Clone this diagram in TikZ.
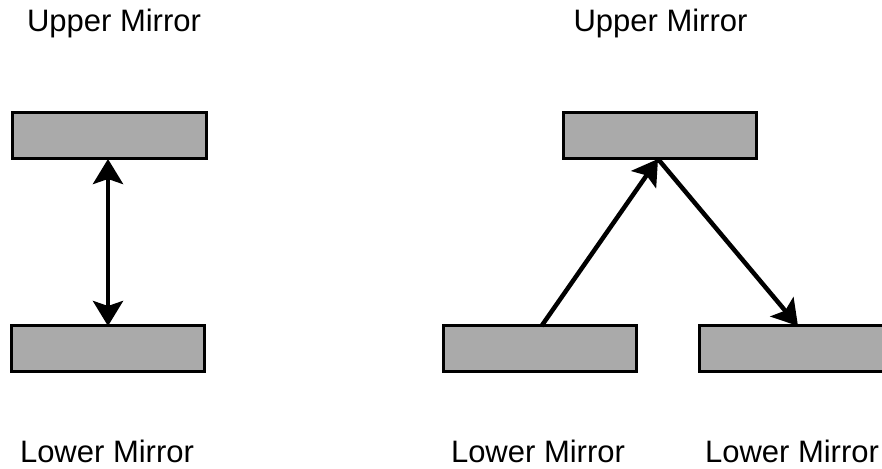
\documentclass[tikz,border=0pt]{standalone}
\usepackage{fontspec}
\setmainfont{Liberation Sans}
\usetikzlibrary{arrows.meta}
\begin{document}
\begin{tikzpicture}[x=1pt,y=1pt,
  mirror/.style={draw=black,line width=3pt,fill=mirrorgray,minimum width=193pt,minimum height=46pt,inner sep=0pt,outer sep=0pt},
  lbl/.style={font=\fontsize{31}{36}\selectfont,inner sep=0pt,anchor=base},
  ray/.style={line width=4.5pt,-{Stealth[length=25pt,width=30pt,inset=5pt]}},
  dray/.style={line width=4.5pt,{Stealth[length=25pt,width=30pt,inset=5pt]}-{Stealth[length=25pt,width=30pt,inset=5pt]}}]
\definecolor{mirrorgray}{HTML}{AAAAAA}
\useasboundingbox (0,0) rectangle (882,468);
% left pair
\node[mirror,minimum width=194pt] (lu) at (109,332) {};
\node[mirror] (ll) at (107.5,119) {};
\node[lbl] (tlu) at (114,436) {Upper Mirror};
\node[lbl] (tll) at (107,6) {Lower Mirror};
\draw[dray] ([xshift=-1pt]lu.south) -- ([xshift=0.5pt]ll.north);
% right group
\node[mirror] (ru) at (659.5,332) {};
\node[mirror] (rl) at (539.5,119) {};
\node[mirror] (rr) at (795.5,119) {};
\node[lbl] (tru) at (660.5,436) {Upper Mirror};
\node[lbl] (trl) at (538,6) {Lower Mirror};
\node[lbl] (trr) at (792,6) {Lower Mirror};
\draw[ray] ([xshift=2pt]rl.north) -- ([xshift=-1.5pt]ru.south);
\draw[ray] ([xshift=-1.5pt]ru.south) -- ([xshift=2.5pt]rr.north);
\end{tikzpicture}
\end{document}
